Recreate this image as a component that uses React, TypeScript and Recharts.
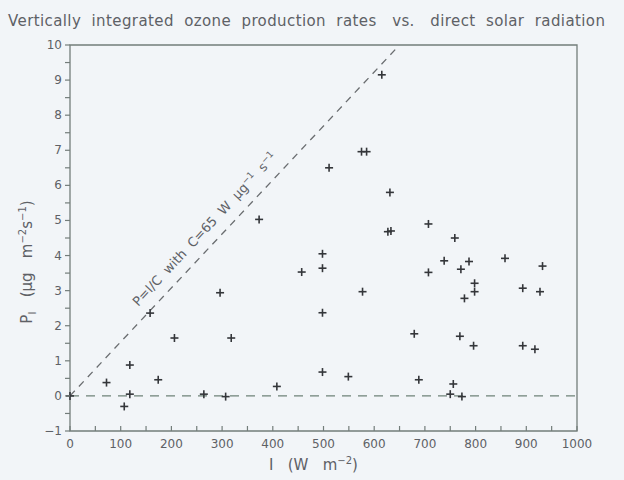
import {
	ReferenceArea,
	ReferenceDot,
	ReferenceLine,
	Scatter,
	ScatterChart,
	XAxis,
	YAxis,
} from "recharts";

// Direct solar radiation I (W m^-2) for each sounding
const irradiance = [
	0, 72, 107, 118, 118, 158, 174, 206, 264, 296, 307, 318, 373, 408, 457, 498,
	498, 498, 498, 511, 549, 575, 585, 577, 615, 627, 633, 631, 679, 688, 707,
	707, 738, 750, 756, 759, 769, 771, 773, 778, 787, 796, 798, 798, 858, 893,
	893, 917, 932, 927,
];

// Vertically integrated ozone production rate P_I (µg m^-2 s^-1)
const production = [
	0, 0.38, -0.3, 0.88, 0.05, 2.36, 0.46, 1.65, 0.05, 2.94, -0.02, 1.65, 5.03,
	0.27, 3.53, 4.05, 3.64, 2.37, 0.68, 6.5, 0.55, 6.96, 6.96, 2.97, 9.15, 4.68,
	4.7, 5.8, 1.77, 0.46, 4.9, 3.52, 3.85, 0.05, 0.34, 4.5, 1.7, 3.61, -0.02,
	2.78, 3.83, 1.43, 3.21, 2.97, 3.92, 3.07, 1.43, 1.33, 3.7, 2.97,
];

const xTicks = [
	0, 50, 100, 150, 200, 250, 300, 350, 400, 450, 500, 550, 600, 650, 700, 750,
	800, 850, 900, 950, 1000,
];
const yTicks = [
	-1, -0.5, 0, 0.5, 1, 1.5, 2, 2.5, 3, 3.5, 4, 4.5, 5, 5.5, 6, 6.5, 7, 7.5, 8,
	8.5, 9, 9.5, 10,
];

// P = I / C reference with C = 65 W µg^-1 s^-1
const C_FACTOR = 65;
const lineEnd = 645;

const points = irradiance.map((x, i) => ({ x, y: production[i] }));

const FONT = "'DejaVu Sans', sans-serif";
const INK = "#5e6166";
const AXIS = "#737d7a";
const MARK = "#34363a";

function XTick({ x, y, payload }: any) {
	const v = payload.value as number;
	return (
		<g>
			<line x1={x} x2={x} y1={y} y2={y - 5} stroke={AXIS} strokeWidth={1.2} />
			{v % 100 === 0 && (
				<text
					x={x}
					y={y + 17}
					textAnchor="middle"
					fill={INK}
					fontSize={12}
					fontFamily={FONT}
				>
					{v}
				</text>
			)}
		</g>
	);
}

function YTick({ x, y, payload }: any) {
	const v = payload.value as number;
	return (
		<g>
			<line x1={x - 5} x2={x} y1={y} y2={y} stroke={AXIS} strokeWidth={1.2} />
			{Number.isInteger(v) && (
				<text
					x={x - 8}
					y={y + 4}
					textAnchor="end"
					fill={INK}
					fontSize={12}
					fontFamily={FONT}
				>
					{v < 0 ? `\u2212${-v}` : v}
				</text>
			)}
		</g>
	);
}

function Plus({ cx, cy }: any) {
	return (
		<g stroke={MARK} strokeWidth={1.6}>
			<line x1={cx - 4} x2={cx + 4} y1={cy} y2={cy} />
			<line x1={cx} x2={cx} y1={cy - 4} y2={cy + 4} />
		</g>
	);
}

function XLabel({ viewBox }: any) {
	const cx = viewBox.x + viewBox.width / 2 - 10;
	return (
		<text
			x={cx}
			y={470}
			textAnchor="middle"
			fill={INK}
			fontSize={15}
			fontFamily={FONT}
			style={{ whiteSpace: "pre" }}
		>
			{"I   (W   m"}
			<tspan dy={-6} fontSize={10}>
				−2
			</tspan>
			<tspan dy={6}>)</tspan>
		</text>
	);
}

function YLabel() {
	const x = 32;
	const y = 262;
	return (
		<text
			x={x}
			y={y}
			transform={`rotate(-90, ${x}, ${y})`}
			textAnchor="middle"
			fill={INK}
			fontSize={15}
			fontFamily={FONT}
			style={{ whiteSpace: "pre" }}
		>
			P
			<tspan dy={4} fontSize={10}>
				I
			</tspan>
			<tspan dy={-4}>{"   (μg   m"}</tspan>
			<tspan dy={-6} fontSize={10}>
				−2
			</tspan>
			<tspan dy={6}>s</tspan>
			<tspan dy={-6} fontSize={10}>
				−1
			</tspan>
			<tspan dy={6}>)</tspan>
		</text>
	);
}

function SlopeLabel({ viewBox }: any) {
	const x = viewBox.x + viewBox.width / 2;
	const y = viewBox.y + viewBox.height / 2;
	return (
		<text
			x={x}
			y={y}
			transform={`rotate(-47, ${x}, ${y})`}
			textAnchor="middle"
			fill={INK}
			fontSize={13}
			fontFamily={FONT}
			style={{ whiteSpace: "pre" }}
		>
			{"P=I/C  with  C=65  W  μg"}
			<tspan dy={-5} fontSize={9}>
				−1
			</tspan>
			<tspan dy={5}>{"  s"}</tspan>
			<tspan dy={-5} fontSize={9}>
				−1
			</tspan>
		</text>
	);
}

export default function App() {
	return (
		<div
			style={{
				position: "absolute",
				left: 0,
				top: 0,
				width: 624,
				height: 480,
				background: "#f2f5f8",
				overflow: "hidden",
			}}
		>
			<div
				style={{
					position: "absolute",
					left: 8,
					top: 12,
					width: 616,
					fontFamily: FONT,
					fontSize: 15,
					color: INK,
					whiteSpace: "pre",
					letterSpacing: 0.4,
				}}
			>
				{"Vertically  integrated  ozone  production  rates   vs.   direct  solar  radiation"}
			</div>
			<ScatterChart
				width={624}
				height={480}
				margin={{ top: 45, right: 47, bottom: 0, left: 0 }}
			>
				<XAxis
					type="number"
					dataKey="x"
					domain={[0, 1000]}
					ticks={xTicks}
					interval={0}
					tick={<XTick />}
					tickSize={0}
					tickMargin={0}
					axisLine={false}
					height={49}
					label={<XLabel />}
				/>
				<YAxis
					type="number"
					dataKey="y"
					domain={[-1, 10]}
					ticks={yTicks}
					interval={0}
					tick={<YTick />}
					tickSize={0}
					tickMargin={0}
					axisLine={false}
					width={70}
					label={<YLabel />}
				/>
				<ReferenceArea
					x1={0}
					x2={1000}
					y1={-1}
					y2={10}
					fill="none"
					stroke={AXIS}
					strokeWidth={1.3}
				/>
				<ReferenceLine
					y={0}
					stroke="#6f8278"
					strokeWidth={1.3}
					strokeDasharray="9 7"
				/>
				<ReferenceLine
					segment={[
						{ x: 0, y: 0 },
						{ x: lineEnd, y: lineEnd / C_FACTOR },
					]}
					stroke="#6a6d70"
					strokeWidth={1.3}
					strokeDasharray="7 6"
				/>
				<ReferenceDot
					x={272}
					y={4.66}
					r={1}
					fill="none"
					stroke="none"
					label={<SlopeLabel />}
				/>
				<Scatter
					data={points}
					shape={<Plus />}
					isAnimationActive={false}
				/>
			</ScatterChart>
		</div>
	);
}
